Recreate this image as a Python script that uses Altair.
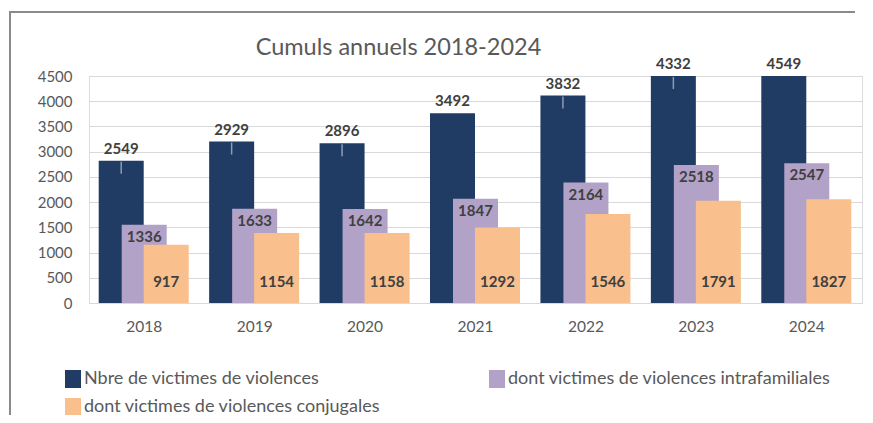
import altair as alt
import pandas as pd

years = ["2018", "2019", "2020", "2021", "2022", "2023", "2024"]
# data labels shown in the chart
total_labels = [2549, 2929, 2896, 3492, 3832, 4332, 4549]
intra_labels = [1336, 1633, 1642, 1847, 2164, 2518, 2547]
conj_labels = [917, 1154, 1158, 1292, 1546, 1791, 1827]
# bar heights as drawn in the picture (read against the y axis)
total_bars = [2818, 3200, 3168, 3762, 4111, 4500, 4500]
intra_bars = [1550, 1867, 1861, 2065, 2388, 2738, 2772]
conj_bars = [1154, 1386, 1386, 1497, 1762, 2025, 2059]
# small light marks near the top of some navy bars
tick_years = ["2018", "2019", "2020", "2022", "2023"]
y_ticks = [0, 500, 1000, 1500, 2000, 2500, 3000, 3500, 4000, 4500]

series = ["Nbre de victimes de violences",
          "dont victimes de violences intrafamiliales",
          "dont victimes de violences conjugales"]
colors = ["#213c64", "#b3a2c8", "#f9bf8d"]

rows = []
for i, y in enumerate(years):
    rows.append({"year": y, "serie": series[0], "bar": total_bars[i], "label": total_labels[i]})
    rows.append({"year": y, "serie": series[1], "bar": intra_bars[i], "label": intra_labels[i]})
    rows.append({"year": y, "serie": series[2], "bar": conj_bars[i], "label": conj_labels[i]})
df = pd.DataFrame(rows)
ticks_df = df[(df.serie == series[0]) & (df.year.isin(tick_years))]

FONT = "Lato"
TXT = "#595959"
LBL = "#404040"

x_axis = alt.Axis(labelAngle=0, ticks=False, domain=False, labelFont=FONT,
                  labelFontSize=15.5, labelColor=TXT, labelPadding=16)
x_scale = alt.Scale(paddingInner=0, paddingOuter=0)
y_axis = alt.Axis(values=y_ticks, format="d", ticks=False, domain=False, labelOverlap=False,
                  labelFont=FONT, labelFontSize=15, labelColor=TXT, labelPadding=17,
                  gridColor="#d9d9d9", gridWidth=1)
y_scale = alt.Scale(domain=[0, 4500], nice=False)

x = alt.X("year:N", sort=years, title=None, scale=x_scale, axis=x_axis)
y = alt.Y("bar:Q", title=None, scale=y_scale, axis=y_axis)
y0 = alt.YDatum(0, type="quantitative", title=None, scale=y_scale, axis=y_axis)

color = alt.Color("serie:N", scale=alt.Scale(domain=series, range=colors), title=None,
                  legend=alt.Legend(orient="none", legendX=-25, legendY=294, columns=2,
                                    values=[series[0], series[2], series[1]],
                                    columnPadding=107, rowPadding=10,
                                    symbolType="M-0.89,-1H0.89V1H-0.89Z", symbolSize=324,
                                    symbolStrokeWidth=0, symbolOpacity=1,
                                    labelFont=FONT, labelFontSize=18, labelColor=TXT,
                                    labelLimit=500, labelOffset=2))

offsets = [-23, 0, 22]
base = alt.Chart(df)

layers = []
# frame lines around the chart (decoration): top and left edges
frame_df = pd.DataFrame({"k": [0]})
layers.append(alt.Chart(frame_df).mark_rule(stroke="#8a8a8a", strokeWidth=2).encode(
    x=alt.value(-79), x2=alt.value(766), y=alt.value(-64)))
layers.append(alt.Chart(frame_df).mark_rule(stroke="#8a8a8a", strokeWidth=2).encode(
    x=alt.value(-79), y=alt.value(-65), y2=alt.value(345)))

for s, off in zip(series, offsets):
    layers.append(
        base.transform_filter(alt.datum.serie == s).mark_bar(width=45, xOffset=off).encode(
            x=x, y=y, color=color)
    )

layers.append(
    alt.Chart(ticks_df).mark_tick(orient="vertical", size=12, thickness=1.5,
                                  color="#b9c4d6", xOffset=-23, yOffset=7).encode(x=x, y=y)
)

layers.append(
    base.transform_filter(alt.datum.serie == series[0]).mark_text(
        xOffset=-23, dy=-4, baseline="bottom", font=FONT, fontSize=15, fontWeight="bold",
        color=LBL).encode(x=x, y=y, text="label:Q")
)
layers.append(
    base.transform_filter(alt.datum.serie == series[1]).mark_text(
        xOffset=0, dy=5, baseline="top", font=FONT, fontSize=15, fontWeight="bold",
        color=LBL).encode(x=x, y=y, text="label:Q")
)
layers.append(
    base.transform_filter(alt.datum.serie == series[2]).mark_text(
        xOffset=22, dy=-13, baseline="bottom", font=FONT, fontSize=15, fontWeight="bold",
        color=LBL).encode(x=x, y=y0, text="label:Q")
)

chart = alt.layer(*layers).properties(
    width=773, height=227,
    autosize=alt.AutoSizeParams(type="none"),
    padding={"left": 81, "top": 68, "right": 3, "bottom": 112},
    title=alt.TitleParams("Cumuls annuels 2018-2024", font=FONT, fontSize=23.5,
                          fontWeight="normal", color=TXT, anchor="middle", frame="group",
                          dx=-77, offset=-49),
).configure_view(stroke=None).configure(background="white")

chart.save("out.html", embed_options={"renderer": "svg", "actions": False})
